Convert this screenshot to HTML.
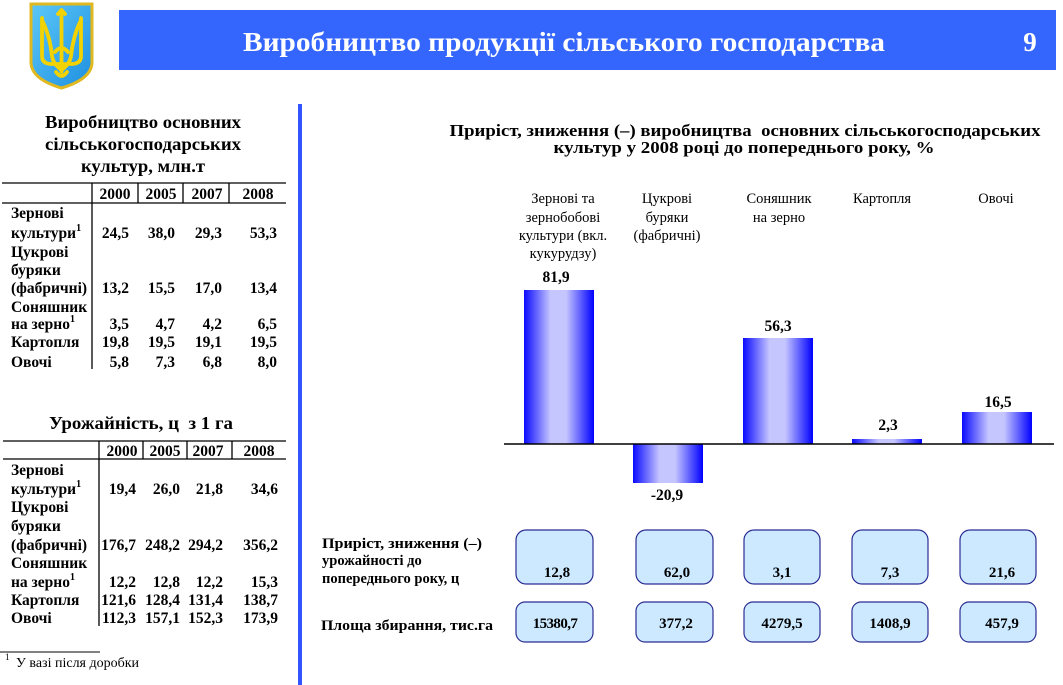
<!DOCTYPE html>
<html>
<head>
<meta charset="utf-8">
<style>
  html,body{margin:0;padding:0;background:#fff;}
  svg{display:block;}
  text{font-family:"Liberation Serif","DejaVu Serif",serif;}
  .b{font-weight:bold;}
</style>
</head>
<body>
<svg width="1063" height="685" viewBox="0 0 1063 685" xmlns="http://www.w3.org/2000/svg">
  <defs>
    <linearGradient id="bar" x1="0" y1="0" x2="1" y2="0">
      <stop offset="0" stop-color="#0a0aff"/>
      <stop offset="0.38" stop-color="#c6c6ff"/>
      <stop offset="0.6" stop-color="#c6c6ff"/>
      <stop offset="1" stop-color="#0000ff"/>
    </linearGradient>
    <linearGradient id="shield" x1="0" y1="0" x2="1" y2="1">
      <stop offset="0" stop-color="#5cc8f8"/>
      <stop offset="1" stop-color="#1e8fe0"/>
    </linearGradient>
  </defs>

  <!-- Coat of arms -->
  <path d="M31,4 H92 V62 Q92,79 61.5,88 Q31,79 31,62 Z" fill="url(#shield)" stroke="#e0b820" stroke-width="3"/>
  <g fill="none" stroke="#f2d200" stroke-width="3.8" stroke-linecap="round" stroke-linejoin="round">
    <path d="M61.5,12 L61.5,72"/>
    <path d="M58,14 L61.5,10 L65,14"/>
    <path d="M42,18 L42,56 Q42,64 52,64 L61.5,64"/>
    <path d="M81,18 L81,56 Q81,64 71,64 L61.5,64"/>
    <path d="M42,20 Q50,36 52,56 Q53,64 61.5,70"/>
    <path d="M81,20 Q73,36 71,56 Q70,64 61.5,70"/>
    <path d="M55,52 Q61.5,44 68,52"/>
    <path d="M56,72 Q61.5,80 67,72"/>
  </g>

  <!-- Header band -->
  <rect x="119" y="10" width="937" height="60" fill="#3465fc"/>
  <text x="564" y="51" text-anchor="middle" class="b" font-size="27" fill="#fff" textLength="642" lengthAdjust="spacingAndGlyphs">Виробництво продукції сільського господарства</text>
  <text x="1030" y="51" text-anchor="middle" class="b" font-size="27" fill="#fff">9</text>

  <!-- Vertical separator -->
  <rect x="298" y="104" width="4" height="581" fill="#3355ff"/>

  <!-- Table 1 title -->
  <g class="b" font-size="18" text-anchor="middle" fill="#000">
    <text x="143" y="128" textLength="196" lengthAdjust="spacingAndGlyphs">Виробництво основних</text>
    <text x="143" y="150" textLength="196" lengthAdjust="spacingAndGlyphs">сільськогосподарських</text>
    <text x="143" y="172" textLength="124" lengthAdjust="spacingAndGlyphs">культур, млн.т</text>
  </g>

  <!-- Table 1 -->
  <g stroke="#000" stroke-width="1.3">
    <line x1="2" y1="183" x2="286" y2="183"/>
    <line x1="2" y1="203" x2="286" y2="203"/>
    <line x1="92" y1="183" x2="92" y2="369"/>
    <line x1="138" y1="183" x2="138" y2="203"/>
    <line x1="183" y1="183" x2="183" y2="203"/>
    <line x1="229" y1="183" x2="229" y2="203"/>
  </g>
  <g class="b" font-size="15.5" fill="#000">
    <g text-anchor="middle">
      <text x="115" y="199">2000</text>
      <text x="161" y="199">2005</text>
      <text x="207" y="199">2007</text>
      <text x="258" y="199">2008</text>
    </g>
    <text x="11" y="218">Зернові</text>
    <text x="11" y="238">культури<tspan font-size="10" dy="-7">1</tspan></text>
    <text x="11" y="257">Цукрові</text>
    <text x="11" y="275">буряки</text>
    <text x="11" y="293">(фабричні)</text>
    <text x="11" y="312">Соняшник</text>
    <text x="11" y="329">на зерно<tspan font-size="10" dy="-7">1</tspan></text>
    <text x="11" y="347">Картопля</text>
    <text x="11" y="367">Овочі</text>
    <g text-anchor="end">
      <text x="129" y="238">24,5</text><text x="175" y="238">38,0</text><text x="222" y="238">29,3</text><text x="277" y="238">53,3</text>
      <text x="129" y="293">13,2</text><text x="175" y="293">15,5</text><text x="222" y="293">17,0</text><text x="277" y="293">13,4</text>
      <text x="129" y="329">3,5</text><text x="175" y="329">4,7</text><text x="222" y="329">4,2</text><text x="277" y="329">6,5</text>
      <text x="129" y="347">19,8</text><text x="175" y="347">19,5</text><text x="222" y="347">19,1</text><text x="277" y="347">19,5</text>
      <text x="129" y="367">5,8</text><text x="175" y="367">7,3</text><text x="222" y="367">6,8</text><text x="277" y="367">8,0</text>
    </g>
  </g>

  <!-- Table 2 title -->
  <text x="141" y="429" text-anchor="middle" class="b" font-size="18" textLength="184" lengthAdjust="spacingAndGlyphs">Урожайність, ц&#160; з 1 га</text>

  <!-- Table 2 -->
  <g stroke="#000" stroke-width="1.3">
    <line x1="3" y1="441" x2="286" y2="441"/>
    <line x1="3" y1="459" x2="286" y2="459"/>
    <line x1="99" y1="441" x2="99" y2="626"/>
    <line x1="143" y1="441" x2="143" y2="459"/>
    <line x1="187" y1="441" x2="187" y2="459"/>
    <line x1="232" y1="441" x2="232" y2="459"/>
  </g>
  <g class="b" font-size="15.5" fill="#000">
    <g text-anchor="middle">
      <text x="122" y="456">2000</text>
      <text x="165" y="456">2005</text>
      <text x="208" y="456">2007</text>
      <text x="259" y="456">2008</text>
    </g>
    <text x="11" y="475">Зернові</text>
    <text x="11" y="494">культури<tspan font-size="10" dy="-7">1</tspan></text>
    <text x="11" y="512">Цукрові</text>
    <text x="11" y="531">буряки</text>
    <text x="11" y="550">(фабричні)</text>
    <text x="11" y="568">Соняшник</text>
    <text x="11" y="587">на зерно<tspan font-size="10" dy="-7">1</tspan></text>
    <text x="11" y="605">Картопля</text>
    <text x="11" y="623">Овочі</text>
    <g text-anchor="end">
      <text x="136" y="494">19,4</text><text x="180" y="494">26,0</text><text x="223" y="494">21,8</text><text x="278" y="494">34,6</text>
      <text x="136" y="550">176,7</text><text x="180" y="550">248,2</text><text x="223" y="550">294,2</text><text x="278" y="550">356,2</text>
      <text x="136" y="587">12,2</text><text x="180" y="587">12,8</text><text x="223" y="587">12,2</text><text x="278" y="587">15,3</text>
      <text x="136" y="605">121,6</text><text x="180" y="605">128,4</text><text x="223" y="605">131,4</text><text x="278" y="605">138,7</text>
      <text x="136" y="623">112,3</text><text x="180" y="623">157,1</text><text x="223" y="623">152,3</text><text x="278" y="623">173,9</text>
    </g>
  </g>

  <!-- Footnote -->
  <line x1="0" y1="652" x2="100" y2="652" stroke="#000" stroke-width="1"/>
  <text x="5" y="660" font-size="9">1</text>
  <text x="16" y="667" font-size="14">У вазі після доробки</text>

  <!-- Chart title -->
  <g class="b" font-size="17" text-anchor="middle">
    <text x="745" y="136" textLength="591" lengthAdjust="spacingAndGlyphs">Приріст, зниження (–) виробництва&#160; основних сільськогосподарських</text>
    <text x="744" y="153" textLength="381" lengthAdjust="spacingAndGlyphs">культур у 2008 році до попереднього року, %</text>
  </g>

  <!-- Category labels -->
  <g font-size="14.5" text-anchor="middle" fill="#000">
    <text x="563" y="203">Зернові та</text>
    <text x="563" y="222">зернобобові</text>
    <text x="563" y="240">культури (вкл.</text>
    <text x="563" y="258">кукурудзу)</text>
    <text x="667" y="203">Цукрові</text>
    <text x="667" y="222">буряки</text>
    <text x="667" y="240">(фабричні)</text>
    <text x="779" y="203">Соняшник</text>
    <text x="779" y="222">на зерно</text>
    <text x="882" y="203">Картопля</text>
    <text x="996" y="203">Овочі</text>
  </g>

  <!-- Bars -->
  <rect x="524" y="290" width="70" height="154" fill="url(#bar)"/>
  <rect x="633" y="444" width="70" height="39" fill="url(#bar)"/>
  <rect x="743" y="338" width="70" height="106" fill="url(#bar)"/>
  <rect x="852" y="439" width="70" height="5" fill="url(#bar)"/>
  <rect x="962" y="412" width="70" height="32" fill="url(#bar)"/>
  <line x1="504" y1="444" x2="1054" y2="444" stroke="#000" stroke-width="1.5"/>

  <!-- Value labels -->
  <g class="b" font-size="15.5" text-anchor="middle">
    <text x="556" y="282">81,9</text>
    <text x="667" y="500">-20,9</text>
    <text x="778" y="331">56,3</text>
    <text x="888" y="430">2,3</text>
    <text x="998" y="407">16,5</text>
  </g>

  <!-- Bottom labels -->
  <g class="b" font-size="14.5">
    <text x="322" y="548" textLength="160" lengthAdjust="spacingAndGlyphs">Приріст, зниження (–)</text>
    <text x="322" y="565">урожайності до</text>
    <text x="322" y="583">попереднього року, ц</text>
    <text x="321" y="630" textLength="172" lengthAdjust="spacingAndGlyphs">Площа збирання, тис.га</text>
  </g>

  <!-- Boxes -->
  <g fill="#cce9ff" stroke="#2c2c92" stroke-width="1.2">
    <rect x="516" y="530" width="77" height="54" rx="10"/>
    <rect x="636" y="530" width="77" height="54" rx="10"/>
    <rect x="744" y="530" width="76" height="54" rx="10"/>
    <rect x="852" y="530" width="76" height="54" rx="10"/>
    <rect x="960" y="530" width="76" height="54" rx="10"/>
    <rect x="516" y="602" width="77" height="40" rx="9"/>
    <rect x="636" y="602" width="77" height="40" rx="9"/>
    <rect x="744" y="602" width="76" height="40" rx="9"/>
    <rect x="852" y="602" width="76" height="40" rx="9"/>
    <rect x="960" y="602" width="76" height="40" rx="9"/>
  </g>
  <g class="b" font-size="15" text-anchor="middle">
    <text x="557" y="577">12,8</text>
    <text x="677" y="577">62,0</text>
    <text x="782" y="577">3,1</text>
    <text x="890" y="577">7,3</text>
    <text x="1002" y="577">21,6</text>
    <text x="555" y="628" letter-spacing="-0.6">15380,7</text>
    <text x="676" y="628">377,2</text>
    <text x="782" y="628">4279,5</text>
    <text x="890" y="628">1408,9</text>
    <text x="1002" y="628">457,9</text>
  </g>
</svg>
</body>
</html>
